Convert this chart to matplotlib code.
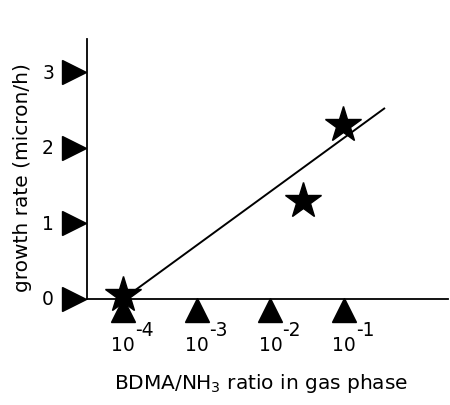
import matplotlib.pyplot as plt
import matplotlib.transforms as mtransforms

# data
ratio = [1e-4, 2.8e-2, 0.097]          # BDMA/NH3 ratio
rate = [0.05, 1.3, 2.3]                 # growth rate (micron/h)
fit_x = [1e-4, 0.35]
fit_y = [0.0, 2.52]
x_ticks = [1e-4, 1e-3, 1e-2, 1e-1]
x_labels = ['-4', '-3', '-2', '-1']
y_ticks = [0, 1, 2, 3]

plt.rcParams['font.family'] = ['DejaVu Sans']

fig = plt.figure(figsize=(4.5, 4.06), dpi=100)
ax = fig.add_axes([87/450, 1 - 300/406, 361/450, 260/406])
ax.set_xscale('log')
ax.set_xlim(10**-4.49, 10**0.41)
ax.set_ylim(0, 3.44)

for s in ['top', 'right']:
    ax.spines[s].set_visible(False)
for s in ['left', 'bottom']:
    ax.spines[s].set_linewidth(1.3)
ax.set_xticks([])
ax.set_yticks([])
ax.minorticks_off()

# fitted line and stars
ax.plot(fit_x, fit_y, color='black', lw=1.4, zorder=2)
ax.plot(ratio, rate, ls='none', marker='*', ms=27, color='black', zorder=3, clip_on=False)

# triangle "ticks" on the y axis
ytr = mtransforms.blended_transform_factory(ax.transAxes, ax.transData)
off_y = mtransforms.ScaledTranslation(-13/100, 0, fig.dpi_scale_trans)
ax.plot([0]*len(y_ticks), y_ticks, ls='none', marker='>', ms=17, color='black',
        transform=ytr + off_y, clip_on=False)
off_lab = mtransforms.ScaledTranslation(-39/100, 0, fig.dpi_scale_trans)
for v in y_ticks:
    ax.text(0, v, str(v), transform=ytr + off_lab, ha='center', va='center', fontsize=13.5)

# triangle "ticks" on the x axis
xtr = mtransforms.blended_transform_factory(ax.transData, ax.transAxes)
off_x = mtransforms.ScaledTranslation(0, -11/100, fig.dpi_scale_trans)
ax.plot(x_ticks, [0]*len(x_ticks), ls='none', marker='^', ms=17, color='black',
        transform=xtr + off_x, clip_on=False)
off_t = mtransforms.ScaledTranslation(0, -46/100, fig.dpi_scale_trans)
off_e = mtransforms.ScaledTranslation(12/100, -31/100, fig.dpi_scale_trans)
for v, e in zip(x_ticks, x_labels):
    ax.text(v, 0, '10', transform=xtr + off_t, ha='center', va='center', fontsize=13.5)
    ax.text(v, 0, e, transform=xtr + off_e, ha='left', va='center', fontsize=13.5)

ax.text(-0.18, 0.47, 'growth rate (micron/h)', transform=ax.transAxes, rotation=90,
        ha='center', va='center', fontsize=14.5)
fig.text(261/450, 1 - 384/406, 'BDMA/NH$_3$ ratio in gas phase', ha='center', va='center',
         fontsize=14.5)

fig.savefig('out.png', dpi=100)
